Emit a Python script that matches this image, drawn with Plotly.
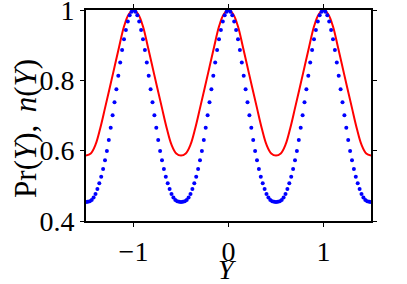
import numpy as np
import plotly.graph_objects as go

# blue dotted series n(Y), sampled every 0.02 on [-1.5, 1.5]
n_x = np.round(np.linspace(-1.5, 1.5, 151), 2)
n_y = [
    0.454, 0.455, 0.456, 0.460, 0.467, 0.477, 0.491, 0.507, 0.526, 0.548, 0.573, 0.599, 0.630,
    0.665, 0.701, 0.738, 0.775, 0.813, 0.851, 0.886, 0.917, 0.943, 0.967, 0.985, 0.995, 1.000,
    0.995, 0.985, 0.967, 0.943, 0.917, 0.886, 0.851, 0.813, 0.775, 0.738, 0.701, 0.665, 0.630,
    0.599, 0.573, 0.548, 0.526, 0.507, 0.491, 0.477, 0.467, 0.460, 0.456, 0.455, 0.454,
    0.455, 0.456, 0.460, 0.467, 0.477, 0.491, 0.507, 0.526, 0.548, 0.573, 0.599, 0.630,
    0.665, 0.701, 0.738, 0.775, 0.813, 0.851, 0.886, 0.917, 0.943, 0.967, 0.985, 0.995, 1.000,
    0.995, 0.985, 0.967, 0.943, 0.917, 0.886, 0.851, 0.813, 0.775, 0.738, 0.701, 0.665, 0.630,
    0.599, 0.573, 0.548, 0.526, 0.507, 0.491, 0.477, 0.467, 0.460, 0.456, 0.455, 0.454,
    0.455, 0.456, 0.460, 0.467, 0.477, 0.491, 0.507, 0.526, 0.548, 0.573, 0.599, 0.630,
    0.665, 0.701, 0.738, 0.775, 0.813, 0.851, 0.886, 0.917, 0.943, 0.967, 0.985, 0.995, 1.000,
    0.995, 0.985, 0.967, 0.943, 0.917, 0.886, 0.851, 0.813, 0.775, 0.738, 0.701, 0.665, 0.630,
    0.599, 0.573, 0.548, 0.526, 0.507, 0.491, 0.477, 0.467, 0.460, 0.456, 0.455, 0.454,
]

# red solid series Pr(Y), sampled every 0.05
pr_x = np.round(np.linspace(-1.5, 1.5, 61), 2)
pr_y = [
    0.586, 0.592, 0.617, 0.664, 0.721, 0.779, 0.838, 0.897, 0.953, 0.988, 1.000,
    0.988, 0.953, 0.897, 0.838, 0.779, 0.721, 0.664, 0.617, 0.592, 0.586,
    0.592, 0.617, 0.664, 0.721, 0.779, 0.838, 0.897, 0.953, 0.988, 1.000,
    0.988, 0.953, 0.897, 0.838, 0.779, 0.721, 0.664, 0.617, 0.592, 0.586,
    0.592, 0.617, 0.664, 0.721, 0.779, 0.838, 0.897, 0.953, 0.988, 1.000,
    0.988, 0.953, 0.897, 0.838, 0.779, 0.721, 0.664, 0.617, 0.592, 0.586,
]

x_ticks = [-1, 0, 1]
x_labels = ["\u22121", "0", "1"]
y_ticks = [0.4, 0.6, 0.8, 1.0]
y_labels = ["0.4", "0.6", "0.8", "1"]

fig = go.Figure()
fig.add_trace(go.Scatter(x=pr_x, y=pr_y, mode="lines", line=dict(color="#ff0000", width=2, shape="spline")))
fig.add_trace(go.Scatter(x=n_x, y=n_y, mode="markers", marker=dict(color="#0000ff", size=4)))

font = "Times New Roman, Liberation Serif, serif"
axis = dict(showline=True, linecolor="black", linewidth=2, mirror="ticks",
            ticks="outside", ticklen=4, tickcolor="black", tickwidth=1, automargin=False,
            ticklabeloverflow="allow",
            showgrid=False, zeroline=False, tickfont=dict(family=font, size=28, color="black"))

fig.update_layout(
    width=407, height=284,
    margin=dict(l=86, r=36, t=10, b=63),
    paper_bgcolor="white", plot_bgcolor="white",
    showlegend=False,
    xaxis=dict(axis, range=[-1.5, 1.5], tickvals=x_ticks, ticktext=x_labels),
    yaxis=dict(axis, range=[0.4, 1.0], tickvals=y_ticks, ticktext=y_labels),
)

# axis titles placed as annotations
fig.add_annotation(text="<i>Y</i>", xref="paper", yref="paper", x=0.498, y=-0.228,
                   xanchor="center", yanchor="middle", showarrow=False,
                   font=dict(family=font, size=28, color="black"))
fig.add_annotation(text="Pr(<i>Y</i>),\u2009\u2009<i>n</i>(<i>Y</i>)", xref="paper", yref="paper",
                   x=-0.215, y=0.44, xanchor="center", yanchor="middle", showarrow=False,
                   textangle=-90, font=dict(family=font, size=31, color="black"))

# drop the default 8px body margin so the figure fills the window
fig.write_html("out.html", config={"displayModeBar": False},
               post_script="document.body.style.margin='0';")
